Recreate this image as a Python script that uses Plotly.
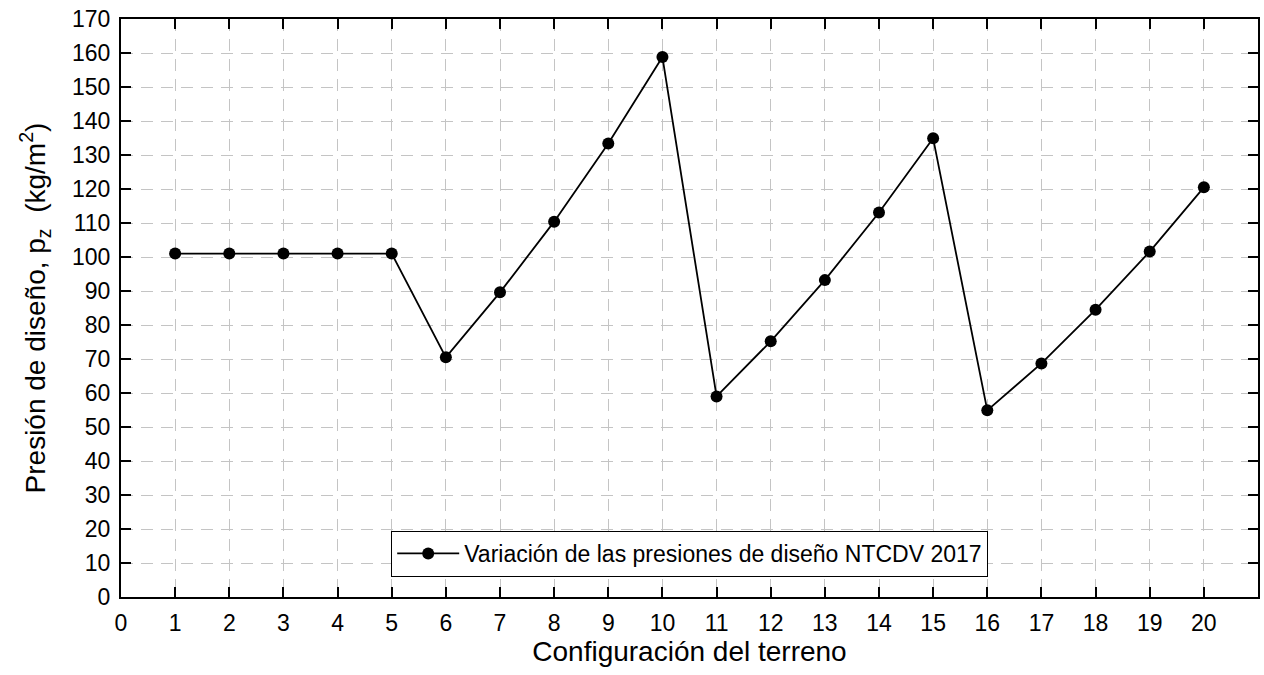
import plotly.graph_objects as go

# Configuración del terreno (1..20) y presión de diseño p_z en kg/m²
configuracion = list(range(1, 21))
presion = [101.0, 101.0, 101.0, 101.0, 101.0, 70.5, 89.6, 110.4, 133.4, 158.8,
           59.0, 75.2, 93.2, 113.1, 134.9, 54.9, 68.7, 84.5, 101.6, 120.5]

x_ticks = list(range(0, 21))
y_ticks = list(range(0, 171, 10))

FONT = "Liberation Sans"

fig = go.Figure()
fig.add_trace(go.Scatter(
    x=configuracion, y=presion,
    mode="lines+markers",
    name="Variación de las presiones de diseño NTCDV 2017",
    line=dict(color="black", width=1.8),
    marker=dict(color="black", size=12),
))

axis_common = dict(
    showline=True, linecolor="black", linewidth=2, mirror="ticks",
    ticks="inside", ticklen=10, tickwidth=2, tickcolor="black",
    showgrid=True, gridcolor="#c4c4c4", gridwidth=1.3, griddash="12px,8px",
    zeroline=False, ticklabelstandoff=4,
    tickfont=dict(family=FONT, size=23, color="black"),
)

fig.update_xaxes(
    range=[0, 21], tickmode="array", tickvals=x_ticks,
    ticktext=[str(v) for v in x_ticks],
    title=dict(text="Configuración del terreno", font=dict(family=FONT, size=28, color="black"), standoff=5),
    **axis_common,
)
fig.update_yaxes(
    range=[0, 170], tickmode="array", tickvals=y_ticks,
    ticktext=[str(v) for v in y_ticks],
    title=dict(text="Presión de diseño, p<sub>z</sub>  (kg/m<sup>2</sup>)",
               font=dict(family=FONT, size=28, color="black"), standoff=18),
    **axis_common,
)

fig.update_layout(
    width=1264, height=675,
    margin=dict(l=121, r=4, t=19, b=78),
    plot_bgcolor="white", paper_bgcolor="white",
    showlegend=True,
    legend=dict(
        x=0.5, y=0.035, xanchor="center", yanchor="bottom",
        bgcolor="white", bordercolor="black", borderwidth=1.2,
        font=dict(family=FONT, size=23, color="black"),
        itemwidth=62,
    ),
)

fig.write_html("out.html")
